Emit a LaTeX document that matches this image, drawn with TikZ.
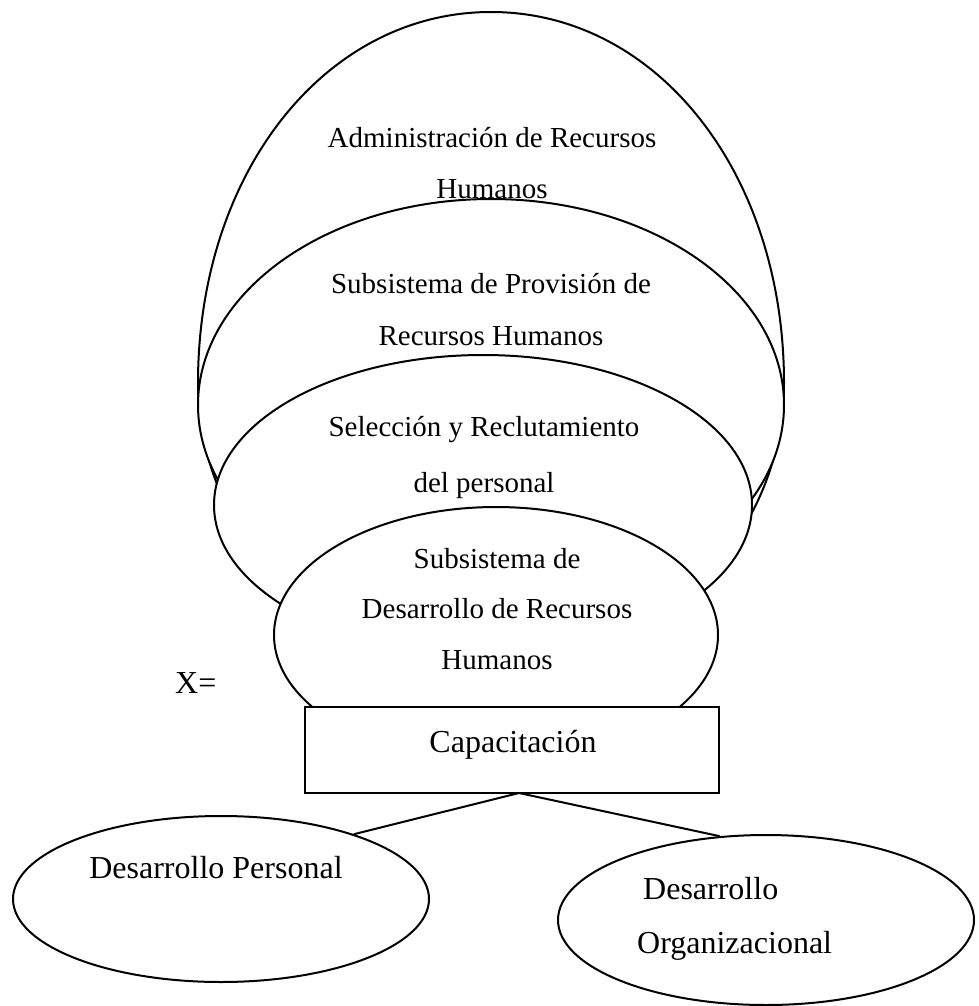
\documentclass[tikz,border=0pt]{standalone}
\usepackage{fontspec}
\setmainfont{Liberation Serif}
\usetikzlibrary{shapes.geometric}

\tikzset{
  outline/.style={draw, fill=white, line width=2pt},
  oval/.style={ellipse, outline, inner sep=0pt},
  framebox/.style={rectangle, outline, inner sep=0pt},
  link/.style={line width=2pt},
  txt/.style={anchor=base, inner sep=0pt, font=\fontsize{29}{34}\selectfont},
  txtbig/.style={anchor=base, inner sep=0pt, font=\fontsize{32}{38}\selectfont},
}

\begin{document}
\begin{tikzpicture}[x=1pt, y=-1pt]
  \useasboundingbox (0,0) rectangle (979,1006);

  % outermost system: tall oval, narrower below its waist
  \path[outline]
    (198,383) .. controls (198,173) and (325,12) .. (491,12)
              .. controls (657,12) and (784,173) .. (784,383)
              .. controls (784,540) and (653,668) .. (491,668)
              .. controls (329,668) and (198,540) .. cycle;

  % nested subsystems
  \node[oval, minimum width=586pt, minimum height=412pt] (prov) at (491,405) {};
  \node[oval, minimum width=538pt, minimum height=300pt] (sel)  at (483,505) {};
  \node[oval, minimum width=444pt, minimum height=256pt] (des)  at (496,635) {};

  % training box
  \node[framebox, minimum width=414pt, minimum height=86pt] (cap) at (512,750) {};

  % development outcomes
  \node[oval, minimum width=416pt, minimum height=166pt] (dp) at (221,899) {};
  \node[oval, minimum width=416pt, minimum height=170pt] (do) at (766,920) {};

  \coordinate (apex) at (519,793);
  \draw[link] (apex) -- (dp.26);
  \draw[link] (apex) -- (do.119);

  % labels
  \node[txt] (admA) at (492,147) {Administración de Recursos};
  \node[txt] (admB) at (492,198) {Humanos};
  \node[txt] (provA) at (491,293) {Subsistema de Provisión de};
  \node[txt] (provB) at (491,345) {Recursos Humanos};
  \node[txt] (selA) at (484,436) {Selección y Reclutamiento};
  \node[txt] (selB) at (484,492) {del personal};
  \node[txt] (desA) at (497,568) {Subsistema de};
  \node[txt] (desB) at (497,618) {Desarrollo de Recursos};
  \node[txt] (desC) at (497,669) {Humanos};
  \node[txtbig, anchor=base west] (xeq) at (175,693) {X=};
  \node[txtbig] (capT) at (513,752) {Capacitación};
  \node[txtbig] (dpT) at (216,878) {Desarrollo Personal};
  \node[txtbig, anchor=base west] (doA) at (643,899) {Desarrollo};
  \node[txtbig, anchor=base west] (doB) at (637,953) {Organizacional};
\end{tikzpicture}
\end{document}
